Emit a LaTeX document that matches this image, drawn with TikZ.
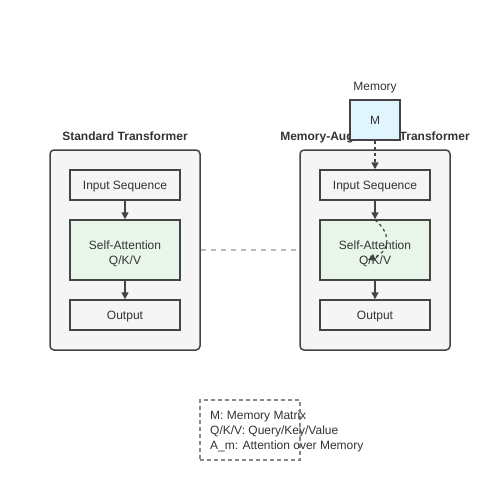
\documentclass[tikz,border=0pt]{standalone}
\usepackage{fontspec}
\setmainfont{Liberation Sans}
\usetikzlibrary{arrows.meta}
\definecolor{edge}{HTML}{444444}
\definecolor{contfill}{HTML}{F5F5F5}
\definecolor{attfill}{HTML}{E8F5E9}
\definecolor{memfill}{HTML}{E1F5FE}
\definecolor{txt}{HTML}{333333}
\definecolor{dashgray}{HTML}{BBBBBB}
\definecolor{leggray}{HTML}{888888}
\tikzset{
  container/.style={draw=edge, fill=contfill, line width=1.5pt, rounded corners=4pt, minimum width=150pt, minimum height=200pt, inner sep=0pt},
  blockbox/.style={draw=edge, fill=contfill, line width=1.5pt, minimum width=110pt, minimum height=30pt, inner sep=0pt, text=txt, text depth=0pt, font=\fontsize{12pt}{15pt}\selectfont},
  attbox/.style={draw=edge, fill=attfill, line width=1.5pt, minimum width=110pt, minimum height=60pt, inner sep=0pt, text=txt, align=center, font=\fontsize{12pt}{15pt}\selectfont},
  membox/.style={draw=edge, fill=memfill, line width=1.5pt, minimum width=50pt, minimum height=40pt, inner sep=0pt, text=txt, text depth=0pt, font=\fontsize{12pt}{14pt}\selectfont},
  titletext/.style={text=txt, text depth=0pt, font=\bfseries\fontsize{12pt}{14pt}\selectfont, inner sep=0pt},
  plaintext/.style={text=txt, text depth=0pt, font=\fontsize{12pt}{14pt}\selectfont, inner sep=0pt},
  arr/.style={draw=edge, line width=1.5pt, -{Triangle[length=7pt,width=7pt]}},
}
\begin{document}
\begin{tikzpicture}[x=1pt,y=-1pt]
\useasboundingbox (0,0) rectangle (500,500);
% left
\node[titletext] (lt) at (125,136.5) {Standard Transformer};
\node[container] (lc) at (125,250) {};
\node[blockbox] (lin) at (125,185) {Input Sequence};
\node[attbox] (lsa) at (125,250) {};
\node[plaintext, align=center, font=\fontsize{12pt}{15pt}\selectfont] (lsat) at (125,252.5) {Self-Attention\\Q/K/V};
\node[blockbox] (lout) at (125,315) {Output};
\draw[arr] (lin) -- (lsa);
\draw[arr] (lsa) -- (lout);
% right
\node[titletext] (rt) at (375,136.5) {Memory-Augmented Transformer};
\node[container] (rc) at (375,250) {};
\node[blockbox] (rin) at (375,185) {Input Sequence};
\node[attbox] (rsa) at (375,250) {};
\node[plaintext, align=center, font=\fontsize{12pt}{15pt}\selectfont] (rsat) at (375,252.5) {Self-Attention\\Q/K/V};
\node[blockbox] (rout) at (375,315) {Output};
\draw[arr] (rin) -- (rsa);
\draw[arr] (rsa) -- (rout);
% memory
\node[plaintext] (ml) at (375,86.5) {Memory};
\node[membox] (mem) at (375,120) {M};
\draw[arr, dashed] (mem) -- (rin);
\coordinate (cs) at (375,220);
\coordinate (ce) at (368,260);
\draw[arr, dashed, line width=1.2pt] (cs) .. controls (390,232) and (392,250) .. (ce);
% link
\draw[dashgray, line width=1.2pt, dash pattern=on 5pt off 5pt] (lc.east) -- (rc.west);
% legend
\node[draw=leggray, line width=1.2pt, dash pattern=on 4pt off 3pt, minimum width=100pt, minimum height=60pt, inner sep=0pt] (leg) at (250,430) {};
\node[plaintext, anchor=north west, align=left, font=\fontsize{12pt}{15pt}\selectfont] (legt) at (210,411) {M: Memory Matrix\\Q/K/V: Query/Key/Value\\A\_m: Attention over Memory};
\end{tikzpicture}
\end{document}
